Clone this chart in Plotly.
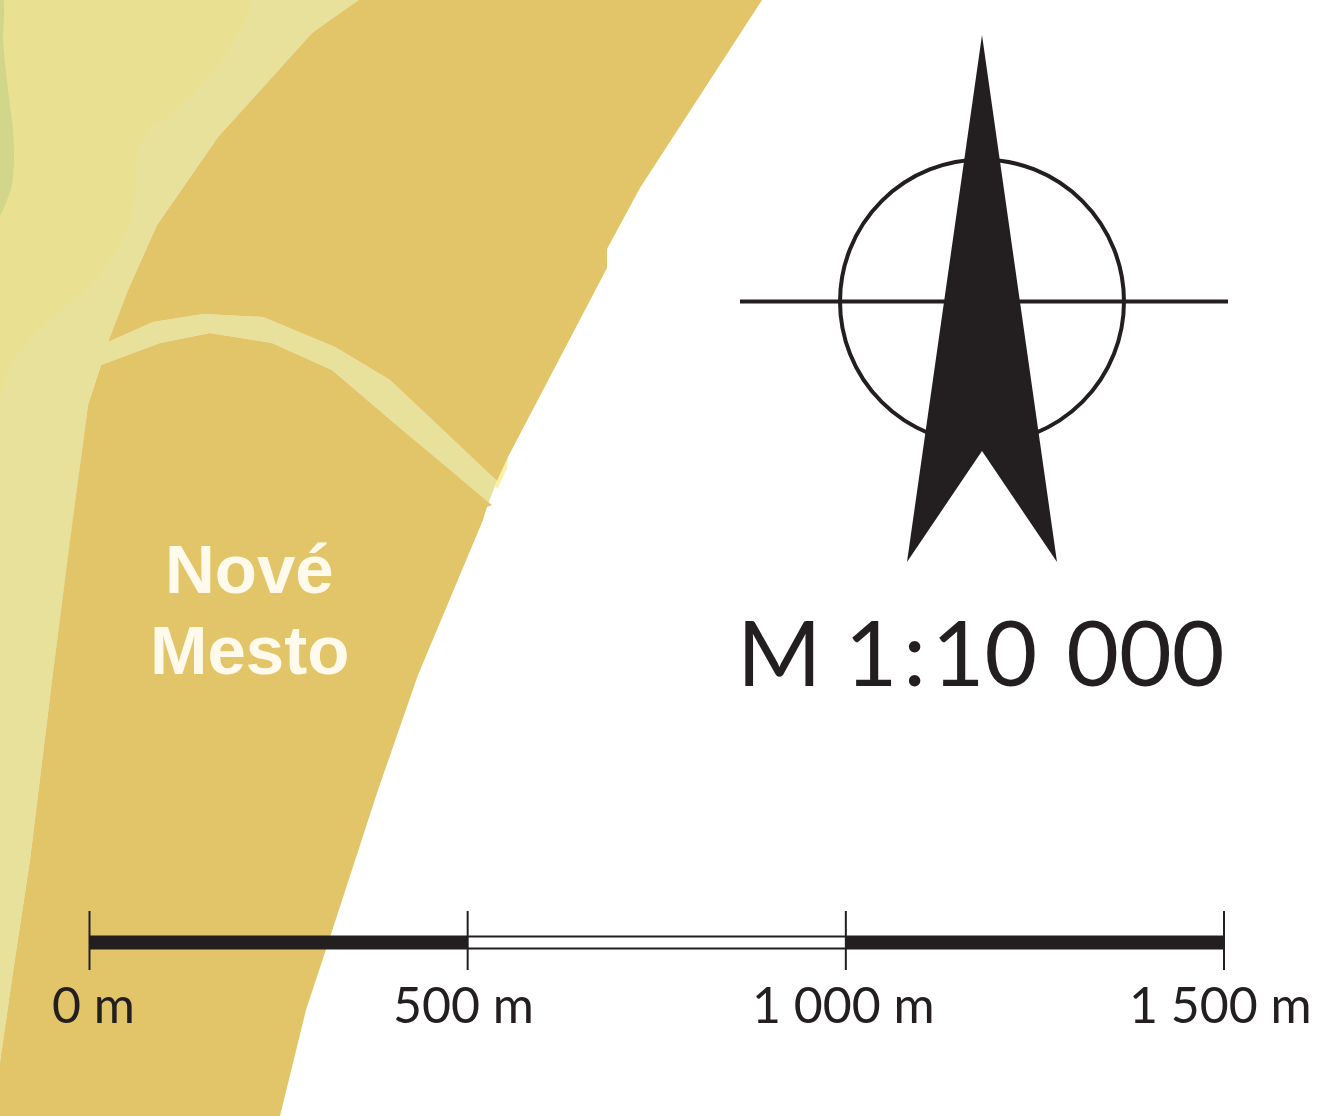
import plotly.graph_objects as go

INK = "#231F20"
# map regions (pixel-like map coordinates)
road_x = [0, 362, 312, 218, 157, 128, 108, 153, 203, 263, 335, 390, 497, 488, 400, 332, 272, 210, 160, 101, 88, 70, 52, 30, 14, 0]
road_y = [0, 0, 33, 137, 225, 290, 342, 322, 314, 317, 347, 380, 481, 504, 428, 370, 343, 333, 343, 365, 405, 540, 680, 860, 965, 1062]
yellow_x = [-30, 250, 235, 205, 175, 150, 138, 135, 134, 125, 95, 60, 25, 8, 0, -30]
yellow_y = [-30, -5, 40, 80, 110, 130, 150, 175, 200, 235, 280, 310, 345, 370, 395, 420]
green_x = [-30, 2, 3, 8, 13, 14, 12, 7, 0, -30]
green_y = [-30, -5, 40, 90, 130, 160, 185, 200, 215, 240]
tan_x = [359, 762, 640, 607, 607, 508, 497, 390, 335, 263, 203, 153, 108, 128, 157, 218, 312]
tan_y = [0, 0, 188, 249, 268, 457, 481, 380, 347, 317, 314, 322, 342, 290, 225, 137, 33]
tan2_x = [101, 160, 210, 272, 332, 400, 488, 492, 487, 483, 418, 378, 334, 306, 280, 0, 0, 14, 30, 52, 70, 88]
tan2_y = [365, 343, 333, 343, 370, 428, 502, 505, 507, 520, 675, 790, 925, 1010, 1116, 1116, 1062, 965, 860, 680, 540, 405]
sliver_x = [508, 507, 498, 494]
sliver_y = [457, 468, 488, 487]

# north arrow
arrow_x = [982, 1057, 982, 907]
arrow_y = [35, 562, 451, 562]
cross_x = [740, 1228]
cross_y = [301.5, 301.5]
circle_box = (840, 159.5, 1124, 443.5)

# scale bar, metres
scale_stops = [0, 500, 1000, 1500]
scale_labels = ["0 m", "500 m", "1 000 m", "1 500 m"]
label_left = [50, 391, 750, 1127]
metres_per_px = 1500 / (1224 - 89.5)

fig = go.Figure()


def poly(x, y, c, shape="linear"):
    fig.add_trace(go.Scatter(x=x, y=y, mode="lines", fill="toself", fillcolor=c,
                             line=dict(width=0, color=c, shape=shape, smoothing=0.8), hoverinfo="skip"))


poly(road_x, road_y, "#E8E19B")
poly(yellow_x, yellow_y, "#E9E091", "spline")
poly(green_x, green_y, "#D1D68B", "spline")
poly(sliver_x, sliver_y, "#F7F2A4")
poly(tan_x, tan_y, "#E3C569")
poly(tan2_x, tan2_y, "#E3C569")

fig.add_trace(go.Scatter(x=cross_x, y=cross_y, mode="lines",
                         line=dict(color=INK, width=4), hoverinfo="skip"))
poly(arrow_x, arrow_y, INK)


def bar(x0, x1, y, w):
    fig.add_trace(go.Scatter(x=[x0, x1], y=[y, y], xaxis="x2", mode="lines",
                             line=dict(color=INK, width=w), hoverinfo="skip"))


bar(scale_stops[0], scale_stops[1], 942.5, 14)
bar(scale_stops[1], scale_stops[2], 936.5, 2)
bar(scale_stops[1], scale_stops[2], 948.5, 2)
bar(scale_stops[2], scale_stops[3], 942.5, 14)
for s in scale_stops:
    fig.add_trace(go.Scatter(x=[s, s], y=[911, 970], xaxis="x2", mode="lines",
                             line=dict(color=INK, width=2), hoverinfo="skip"))

fig.add_shape(type="circle", x0=circle_box[0], y0=circle_box[1], x1=circle_box[2], y1=circle_box[3],
              xref="x", yref="y", line=dict(color=INK, width=4), layer="below")

for t, xl in zip(scale_labels, label_left):
    fig.add_annotation(x=xl, y=1004, xref="x", yref="y", text=t, showarrow=False, xanchor="left",
                       yanchor="middle", font=dict(family="Lato", size=50, color=INK))
fig.add_annotation(x=981, y=650, xref="x", yref="y", text="M 1\u200a:\u200a10\u200a 000", showarrow=False,
                   xanchor="center", yanchor="middle", font=dict(family="Lato", size=91, color=INK))
for t, y in (("Nové", 569), ("Mesto", 650)):
    fig.add_annotation(x=249, y=y, xref="x", yref="y", text=t, showarrow=False, xanchor="center",
                       yanchor="middle", font=dict(family="Liberation Sans", size=69, color="#FFFAEB", weight="bold"))

fig.update_layout(
    width=1339, height=1116, margin=dict(l=0, r=0, t=0, b=0), showlegend=False,
    paper_bgcolor="white", plot_bgcolor="white",
    xaxis=dict(range=[0, 1339], visible=False, domain=[0, 1]),
    xaxis2=dict(range=[-89.5 * metres_per_px, (1339 - 89.5) * metres_per_px], visible=False,
                overlaying="x", anchor="y"),
    yaxis=dict(range=[1116, 0], visible=False),
)
fig.write_html("out.html", config={"displayModeBar": False},
               post_script="document.body.style.margin='0';document.body.style.overflow='hidden';")
